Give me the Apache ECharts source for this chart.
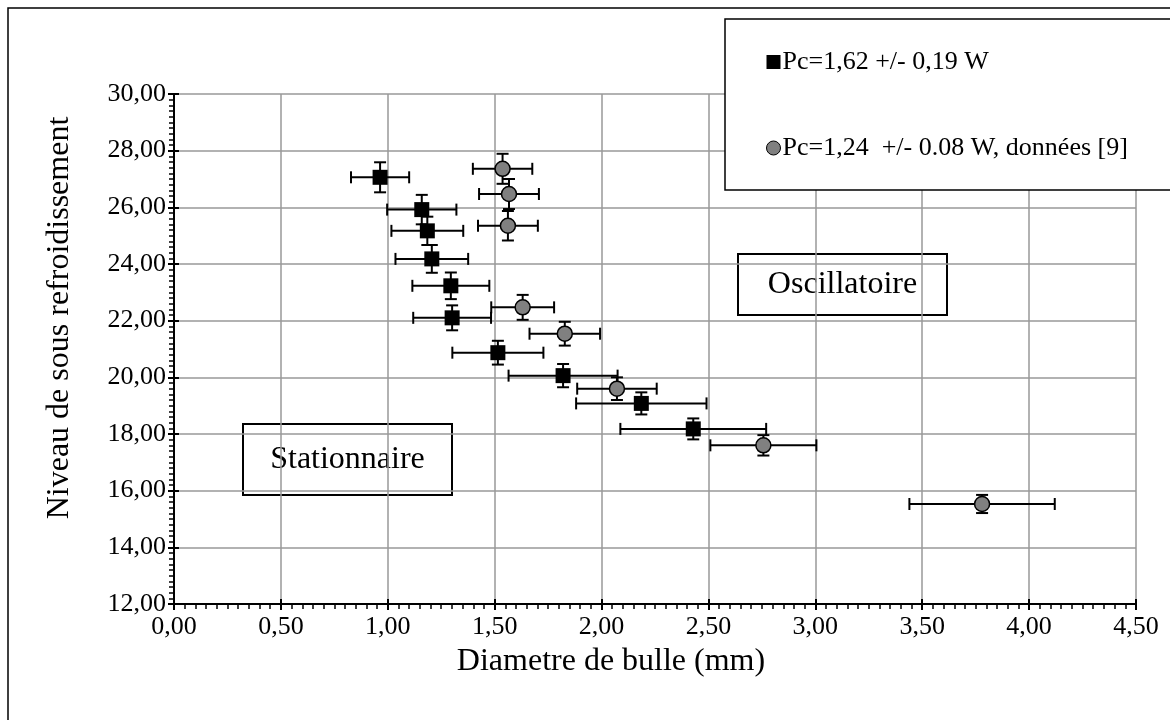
<!DOCTYPE html>
<html>
<head>
<meta charset="utf-8">
<script src="https://cdn.jsdelivr.net/npm/echarts@6/dist/echarts.min.js"></script>
<style>
html,body{margin:0;padding:0;background:#fff;}
#chart{width:1170px;height:720px;}
</style>
</head>
<body>
<div id="chart"></div>
<script>
// Series A: Pc=1,62 +/- 0,19 W (black squares)
const xA    = [0.964, 1.159, 1.185, 1.206, 1.295, 1.301, 1.515, 1.820, 2.186, 2.429];
const yA    = [27.06, 25.92, 25.17, 24.18, 23.23, 22.10, 20.87, 20.06, 19.08, 18.18];
const xErrA = [0.136, 0.162, 0.168, 0.170, 0.180, 0.182, 0.213, 0.255, 0.305, 0.341];
const yErrA = [0.53, 0.52, 0.50, 0.49, 0.47, 0.44, 0.42, 0.41, 0.39, 0.37];

// Series B: Pc=1,24 +/- 0.08 W, données [9] (grey circles)
const xB    = [1.537, 1.567, 1.562, 1.631, 1.828, 2.072, 2.757, 3.780];
const yB    = [27.36, 26.47, 25.35, 22.47, 21.54, 19.60, 17.60, 15.53];
const xErrB = [0.139, 0.140, 0.140, 0.147, 0.165, 0.186, 0.248, 0.340];
const yErrB = [0.53, 0.53, 0.52, 0.44, 0.42, 0.40, 0.36, 0.32];

const nameA = 'Pc=1,62 +/- 0,19 W';
const nameB = 'Pc=1,24  +/- 0.08 W, données [9]';

const xTitle = 'Diametre de bulle (mm)';
const yTitle = 'Niveau de sous refroidissement';
const regionA = 'Oscillatoire';
const regionB = 'Stationnaire';

const FONT = '"Liberation Serif", "Times New Roman", serif';
const fmt = v => v.toFixed(2).replace('.', ',');

function pts(xs, ys) { return xs.map((x, i) => [x, ys[i]]); }
function errs(xs, ys, ex, ey) { return xs.map((x, i) => [x, ys[i], ex[i], ey[i]]); }

function renderErr(params, api) {
  const x = api.value(0), y = api.value(1), ex = api.value(2), ey = api.value(3);
  const l = api.coord([x - ex, y]), r = api.coord([x + ex, y]);
  const t = api.coord([x, y + ey]), b = api.coord([x, y - ey]);
  const capH = 6, capV = 6;
  const st = { stroke: '#000', lineWidth: 2 };
  const line = (x1, y1, x2, y2) => ({ type: 'line', shape: { x1, y1, x2, y2 }, style: st });
  return {
    type: 'group',
    children: [
      line(l[0], l[1], r[0], r[1]),
      line(l[0], l[1] - capH, l[0], l[1] + capH),
      line(r[0], r[1] - capH, r[0], r[1] + capH),
      line(t[0], t[1], b[0], b[1]),
      line(t[0] - capV, t[1], t[0] + capV, t[1]),
      line(b[0] - capV, b[1], b[0] + capV, b[1])
    ]
  };
}

const chart = echarts.init(document.getElementById('chart'));
chart.setOption({
  animation: false,
  backgroundColor: '#fff',
  textStyle: { fontFamily: FONT },
  grid: { left: 174, right: 34, top: 94, bottom: 116, containLabel: false },
  legend: {
    left: 725, top: 19,
    orient: 'vertical',
    padding: [30, 60, 30, 41],
    itemGap: 60,
    itemWidth: 14, itemHeight: 14,
    itemStyle: { borderWidth: 0 },
    textStyle: { fontFamily: FONT, fontSize: 26, color: '#000', padding: [0, 0, 0, -3] },
    z: 20,
    data: [
      { name: nameA, icon: 'rect', itemStyle: { color: '#000' } },
      { name: nameB, icon: 'circle', itemStyle: { color: '#808080', borderColor: '#000', borderWidth: 1 } }
    ]
  },
  xAxis: [{
    type: 'value', min: 0, max: 4.5, interval: 0.5,
    axisLine: { show: true, onZero: false, lineStyle: { color: '#000', width: 2 } },
    axisTick: { show: true, length: 6, lineStyle: { color: '#000', width: 2 } },
    minorTick: { show: true, splitNumber: 10, length: 5, lineStyle: { color: '#000', width: 1.5 } },
    axisLabel: { formatter: fmt, fontFamily: FONT, fontSize: 26, color: '#000', margin: 10 },
    splitLine: { show: true, lineStyle: { color: '#999', width: 1.5 } }
  }, {
    type: 'value', min: 0, max: 4.5, interval: 0.5, position: 'bottom',
    axisLine: { show: false }, axisLabel: { show: false }, splitLine: { show: false },
    axisTick: { show: true, inside: true, length: 5, lineStyle: { color: '#000', width: 2 } }
  }],
  yAxis: [{
    type: 'value', min: 12, max: 30, interval: 2,
    axisLine: { show: true, onZero: false, lineStyle: { color: '#000', width: 2 } },
    axisTick: { show: true, length: 6, lineStyle: { color: '#000', width: 2 } },
    minorTick: { show: true, splitNumber: 10, length: 5, lineStyle: { color: '#000', width: 1.5 } },
    axisLabel: { formatter: fmt, fontFamily: FONT, fontSize: 26, color: '#000', margin: 8 },
    splitLine: { show: true, lineStyle: { color: '#999', width: 1.5 } }
  }, {
    type: 'value', min: 12, max: 30, interval: 2, position: 'left',
    axisLine: { show: false }, axisLabel: { show: false }, splitLine: { show: false },
    axisTick: { show: true, inside: true, length: 5, lineStyle: { color: '#000', width: 2 } }
  }],
  graphic: [
    { type: 'rect', x: 8, y: 8, shape: { width: 1180, height: 730 }, style: { fill: 'none', stroke: '#000', lineWidth: 1.5 }, z: 1, silent: true },
    { type: 'rect', x: 725, y: 19, shape: { width: 470, height: 171 }, style: { fill: '#fff', stroke: '#000', lineWidth: 1.5 }, z: 5, silent: true },
    { type: 'text', x: 611, y: 662, z: 5, style: { text: xTitle, fontFamily: FONT, fontSize: 32, fill: '#000', align: 'center', verticalAlign: 'middle' } },
    { type: 'text', x: 60, y: 318, rotation: Math.PI / 2, z: 5, style: { text: yTitle, fontFamily: FONT, fontSize: 32, fill: '#000', align: 'center', verticalAlign: 'middle' } },
    { type: 'group', x: 738, y: 254, z: 5, children: [
      { type: 'rect', shape: { width: 209, height: 61 }, style: { fill: '#fff', stroke: '#000', lineWidth: 2 } },
      { type: 'text', x: 104.5, y: 31, style: { text: regionA, fontFamily: FONT, fontSize: 32, fill: '#000', align: 'center', verticalAlign: 'middle' } }
    ]},
    { type: 'group', x: 243, y: 424, z: 5, children: [
      { type: 'rect', shape: { width: 209, height: 71 }, style: { fill: '#fff', stroke: '#000', lineWidth: 2 } },
      { type: 'text', x: 104.5, y: 36, style: { text: regionB, fontFamily: FONT, fontSize: 32, fill: '#000', align: 'center', verticalAlign: 'middle' } }
    ]}
  ],
  series: [
    { type: 'custom', name: 'errA', renderItem: renderErr, data: errs(xA, yA, xErrA, yErrA), z: 3, silent: true },
    { type: 'custom', name: 'errB', renderItem: renderErr, data: errs(xB, yB, xErrB, yErrB), z: 3, silent: true },
    { type: 'scatter', name: nameA, symbol: 'rect', symbolSize: 15, data: pts(xA, yA),
      itemStyle: { color: '#000', opacity: 1 }, z: 4 },
    { type: 'scatter', name: nameB, symbol: 'circle', symbolSize: 15, data: pts(xB, yB),
      itemStyle: { color: '#808080', borderColor: '#000', borderWidth: 1.5, opacity: 1 }, z: 4 }
  ]
});
</script>
</body>
</html>
